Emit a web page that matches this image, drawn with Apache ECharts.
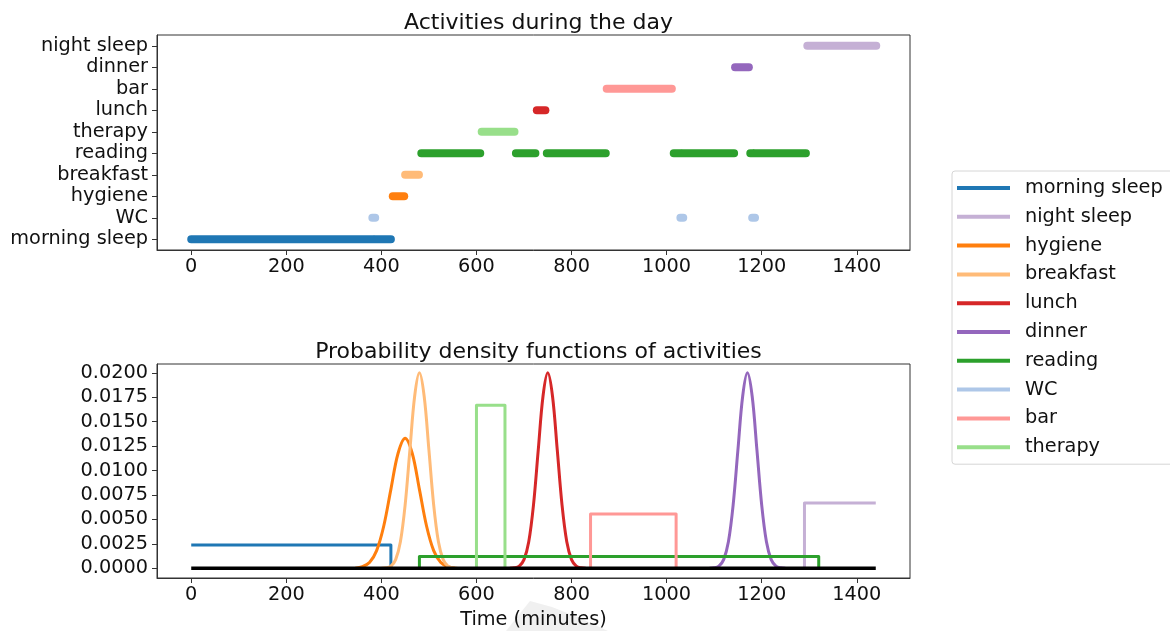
<!DOCTYPE html>
<html>
<head>
<meta charset="UTF-8">
<script src="https://cdn.jsdelivr.net/npm/echarts@6/dist/echarts.min.js"></script>
<style>
  html, body { margin: 0; padding: 0; background: #fff; }
  #main { width: 1170px; height: 631px; }
</style>
</head>
<body>
<div id="main"></div>
<script>
// y categories of the top chart, bottom -> top
var activities = ['morning sleep', 'WC', 'hygiene', 'breakfast', 'reading', 'therapy', 'lunch', 'bar', 'dinner', 'night sleep'];
// legend order
var legendOrder = ['morning sleep', 'night sleep', 'hygiene', 'breakfast', 'lunch', 'dinner', 'reading', 'WC', 'bar', 'therapy'];
var xTicks = [0, 200, 400, 600, 800, 1000, 1200, 1400];
var pdfTicks = [0, 0.0025, 0.005, 0.0075, 0.01, 0.0125, 0.015, 0.0175, 0.02];

// time spans (minutes) of each activity in the day
var morningSleepSpans = [[0, 383], [386, 420]];
var wcSpans = [[381, 387], [1029, 1035], [1180, 1186]];
var hygieneSpans = [[424, 448]];
var breakfastSpans = [[450, 479]];
var readingSpans = [[484, 608], [683, 724], [748, 872], [1015, 1030], [1033, 1142], [1176, 1182], [1184, 1293]];
var therapySpans = [[611, 680]];
var lunchSpans = [[727, 745]];
var barSpans = [[874, 1011]];
var dinnerSpans = [[1144, 1173]];
var nightSleepSpans = [[1296, 1441]];

// density curves [minute, density]
var morningSleepPdf = [[0, 0.00238], [420, 0.00238], [420, 0]];
var nightSleepPdf = [[1290, 0], [1290, 0.00667], [1440, 0.00667]];
var hygienePdf = [[345, 0], [360, 0.00015], [375, 0.00058], [390, 0.0018], [405, 0.00432], [420, 0.00807], [435, 0.01174], [450, 0.0133],
  [465, 0.01174], [480, 0.00807], [495, 0.00432], [510, 0.0018], [525, 0.00058], [540, 0.00015], [555, 0]];
var breakfastPdf = [[400, 0], [410, 0.00004], [420, 0.00022], [430, 0.00088], [440, 0.0027], [450, 0.00648], [460, 0.0121], [470, 0.0176], [480, 0.02],
  [490, 0.0176], [500, 0.0121], [510, 0.00648], [520, 0.0027], [530, 0.00088], [540, 0.00022], [550, 0.00004], [560, 0]];
var lunchPdf = [[670, 0], [680, 0.00004], [690, 0.00022], [700, 0.00088], [710, 0.0027], [720, 0.00648], [730, 0.0121], [740, 0.0176], [750, 0.02],
  [760, 0.0176], [770, 0.0121], [780, 0.00648], [790, 0.0027], [800, 0.00088], [810, 0.00022], [820, 0.00004], [830, 0]];
var dinnerPdf = [[1090, 0], [1100, 0.00004], [1110, 0.00022], [1120, 0.00088], [1130, 0.0027], [1140, 0.00648], [1150, 0.0121], [1160, 0.0176], [1170, 0.02],
  [1180, 0.0176], [1190, 0.0121], [1200, 0.00648], [1210, 0.0027], [1220, 0.00088], [1230, 0.00022], [1240, 0.00004], [1250, 0]];
var readingPdf = [[480, 0], [480, 0.00119], [1320, 0.00119], [1320, 0]];
var wcPdf = [];
var barPdf = [[840, 0], [840, 0.00556], [1020, 0.00556], [1020, 0]];
var therapyPdf = [[600, 0], [600, 0.01667], [660, 0.01667], [660, 0]];
var baseline = [[0, 0], [1440, 0]];

var palette = {
  'morning sleep': '#1f77b4', 'night sleep': '#c5b0d5', 'hygiene': '#ff7f0e', 'breakfast': '#ffbb78',
  'lunch': '#d62728', 'dinner': '#9467bd', 'reading': '#2ca02c', 'WC': '#aec7e8', 'bar': '#ff9896', 'therapy': '#98df8a'
};

var spans = {
  'morning sleep': morningSleepSpans, 'night sleep': nightSleepSpans, 'hygiene': hygieneSpans, 'breakfast': breakfastSpans,
  'lunch': lunchSpans, 'dinner': dinnerSpans, 'reading': readingSpans, 'WC': wcSpans, 'bar': barSpans, 'therapy': therapySpans
};
var pdfs = {
  'morning sleep': morningSleepPdf, 'night sleep': nightSleepPdf, 'hygiene': hygienePdf, 'breakfast': breakfastPdf,
  'lunch': lunchPdf, 'dinner': dinnerPdf, 'reading': readingPdf, 'WC': wcPdf, 'bar': barPdf, 'therapy': therapyPdf
};
var smoothed = { 'hygiene': true, 'breakfast': true, 'lunch': true, 'dinner': true };

var FONT = 'DejaVu Sans';
var TXT = '#111';
var FS = 19.3;

function spanData(name) {
  var out = [];
  spans[name].forEach(function (s, i) {
    if (i > 0) out.push(null);
    out.push([s[0], name]);
    out.push([s[1], name]);
  });
  return out;
}

var series = [];
legendOrder.forEach(function (name) {
  series.push({
    name: name, type: 'line', xAxisIndex: 0, yAxisIndex: 0,
    data: spanData(name), showSymbol: false, connectNulls: false,
    color: palette[name],
    lineStyle: { width: 8, cap: 'round', join: 'round' }
  });
});
legendOrder.forEach(function (name) {
  series.push({
    name: name, type: 'line', xAxisIndex: 1, yAxisIndex: 1,
    data: pdfs[name], showSymbol: false,
    smooth: smoothed[name] ? 0.35 : false,
    color: palette[name],
    lineStyle: { width: 3, join: 'round' }
  });
});
series.push({
  name: 'zero', type: 'line', xAxisIndex: 1, yAxisIndex: 1,
  data: baseline, showSymbol: false, color: '#000',
  lineStyle: { width: 3.5 }
});

function xAxisCfg(idx, extra) {
  var c = {
    type: 'value', gridIndex: idx, min: -72, max: 1512,
    splitLine: { show: false },
    axisLine: { show: true, onZero: false, lineStyle: { color: '#333', width: 1 } },
    axisTick: { show: true, length: 5, customValues: xTicks, lineStyle: { color: '#333' } },
    axisLabel: { customValues: xTicks, margin: 7, fontFamily: FONT, fontSize: FS, color: TXT,
      formatter: function (v) { return String(v); } }
  };
  return Object.assign(c, extra || {});
}

var chart = echarts.init(document.getElementById('main'), null, { renderer: 'canvas' });
chart.setOption({
  animation: false,
  backgroundColor: '#fff',
  title: [
    { text: 'Activities during the day', left: 533.5, top: 7, textAlign: 'center',
      textStyle: { fontFamily: FONT, fontSize: 22, fontWeight: 'normal', color: TXT } },
    { text: 'Probability density functions of activities', left: 533.5, top: 336, textAlign: 'center',
      textStyle: { fontFamily: FONT, fontSize: 22, fontWeight: 'normal', color: TXT } }
  ],
  legend: {
    orient: 'vertical', left: 952, top: 171,
    data: legendOrder.map(function (n) { return { name: n, icon: 'rect' }; }),
    itemWidth: 53, itemHeight: 4, itemGap: 8.8,
    padding: [7, 24, 7, 5],
    backgroundColor: '#fff', borderColor: '#d6d6d6', borderWidth: 1, borderRadius: 3,
    selectedMode: false,
    textStyle: { fontFamily: FONT, fontSize: FS, color: TXT, lineHeight: 20, padding: [0, 0, 0, 10] }
  },
  grid: [
    { left: 157, top: 35, width: 753, height: 215, outerBoundsMode: 'none',
      show: true, borderColor: '#333', borderWidth: 1, backgroundColor: 'transparent' },
    { left: 157, top: 364, width: 753, height: 214, outerBoundsMode: 'none',
      show: true, borderColor: '#333', borderWidth: 1, backgroundColor: 'transparent' }
  ],
  xAxis: [
    xAxisCfg(0),
    xAxisCfg(1, { name: 'Time (minutes)', nameLocation: 'middle', nameGap: 32.5, nameMoveOverlap: false,
      nameTextStyle: { fontFamily: FONT, fontSize: FS, color: TXT } })
  ],
  yAxis: [
    {
      type: 'category', gridIndex: 0, data: activities, boundaryGap: true,
      splitLine: { show: false },
      axisLine: { show: true, onZero: false, lineStyle: { color: '#333' } },
      axisTick: { show: true, alignWithLabel: true, length: 5, interval: 0, lineStyle: { color: '#333' } },
      axisLabel: { interval: 0, margin: 9, fontFamily: FONT, fontSize: FS, color: TXT }
    },
    {
      type: 'value', gridIndex: 1, min: -0.001, max: 0.0209,
      splitLine: { show: false },
      axisLine: { show: true, onZero: false, lineStyle: { color: '#333' } },
      axisTick: { show: true, length: 5, customValues: pdfTicks, lineStyle: { color: '#333' } },
      axisLabel: { customValues: pdfTicks, margin: 9, fontFamily: FONT, fontSize: FS, color: TXT,
        formatter: function (v) { return v.toFixed(4); } }
    }
  ],
  graphic: [
    { type: 'polygon', z: -1, silent: true,
      shape: { points: [[506, 631], [530, 601], [552, 607], [580, 618], [608, 631]] },
      style: { fill: '#f0f0f0' } }
  ],
  series: series
});
</script>
</body>
</html>
